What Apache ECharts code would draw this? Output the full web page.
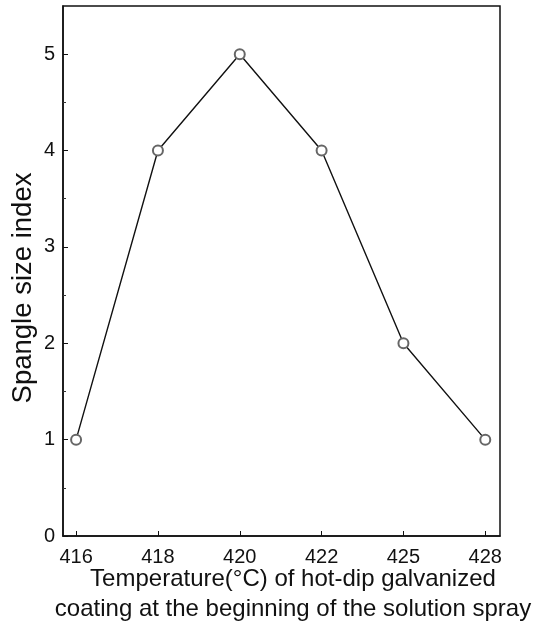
<!DOCTYPE html>
<html>
<head>
<meta charset="utf-8">
<script src="https://cdn.jsdelivr.net/npm/echarts@6/dist/echarts.min.js"></script>
<style>html,body{margin:0;padding:0;background:#fff}#c{width:555px;height:624px}</style>
</head>
<body>
<div id="c"></div>
<script>
var categories = ['416', '418', '420', '422', '425', '428'];
var spangleIndex = [1, 4, 5, 4, 2, 1];
var yTickValues = [0, 1, 2, 3, 4, 5];
var yMinorTicks = [0.5, 1.5, 2.5, 3.5, 4.5];
var xTitle = 'Temperature(\u00b0C) of hot-dip galvanized\ncoating at the beginning of the solution spray';
var yTitle = 'Spangle size index';

var idx = categories.map(function (c, i) { return i; });
var seriesData = spangleIndex.map(function (v, i) { return [i, v]; });
var FONT = '"Liberation Sans", Arial, sans-serif';

var chart = echarts.init(document.getElementById('c'), null, { renderer: 'canvas' });
chart.setOption({
  animation: false,
  backgroundColor: '#fff',
  grid: { left: 63, right: 55, top: 6, bottom: 88, show: true, borderColor: '#111', borderWidth: 1.5, backgroundColor: 'transparent' },
  xAxis: {
    type: 'value', min: -0.16, max: 5.18,
    axisLine: { show: true, onZero: false, lineStyle: { color: '#111', width: 1.5 } },
    axisTick: { show: true, inside: true, length: 5, customValues: idx, lineStyle: { color: '#111' } },
    axisLabel: { customValues: idx, formatter: function (v) { return categories[Math.round(v)]; }, color: '#111', fontSize: 20, fontFamily: FONT, margin: 11 },
    splitLine: { show: false }
  },
  yAxis: [{
    type: 'value', min: 0, max: 5.5,
    axisLine: { show: true, onZero: false, lineStyle: { color: '#111', width: 1.5 } },
    axisTick: { show: true, inside: true, length: 5, customValues: yTickValues, lineStyle: { color: '#111' } },
    axisLabel: { customValues: yTickValues, color: '#111', fontSize: 20, fontFamily: FONT, margin: 8 },
    splitLine: { show: false }
  }, {
    type: 'value', min: 0, max: 5.5, position: 'left',
    axisLine: { show: false, onZero: false },
    axisTick: { show: true, inside: true, length: 3, customValues: yMinorTicks, lineStyle: { color: '#333' } },
    axisLabel: { show: false },
    splitLine: { show: false }
  }],
  graphic: [{
    type: 'text', x: 23, y: 288, rotation: Math.PI / 2,
    style: { text: yTitle, fontSize: 27.5, fontFamily: FONT, fill: '#111', align: 'center', verticalAlign: 'middle' }
  }, {
    type: 'text', x: 293, y: 594,
    style: { text: xTitle, fontSize: 24, lineHeight: 30, fontFamily: FONT, fill: '#111', align: 'center', verticalAlign: 'middle' }
  }],
  series: [{
    type: 'line',
    data: seriesData,
    symbol: 'emptyCircle',
    symbolSize: 10,
    lineStyle: { color: '#111', width: 1.4 },
    itemStyle: { color: '#666', borderColor: '#666', borderWidth: 0.8 },
    z: 3
  }]
});
</script>
</body>
</html>
